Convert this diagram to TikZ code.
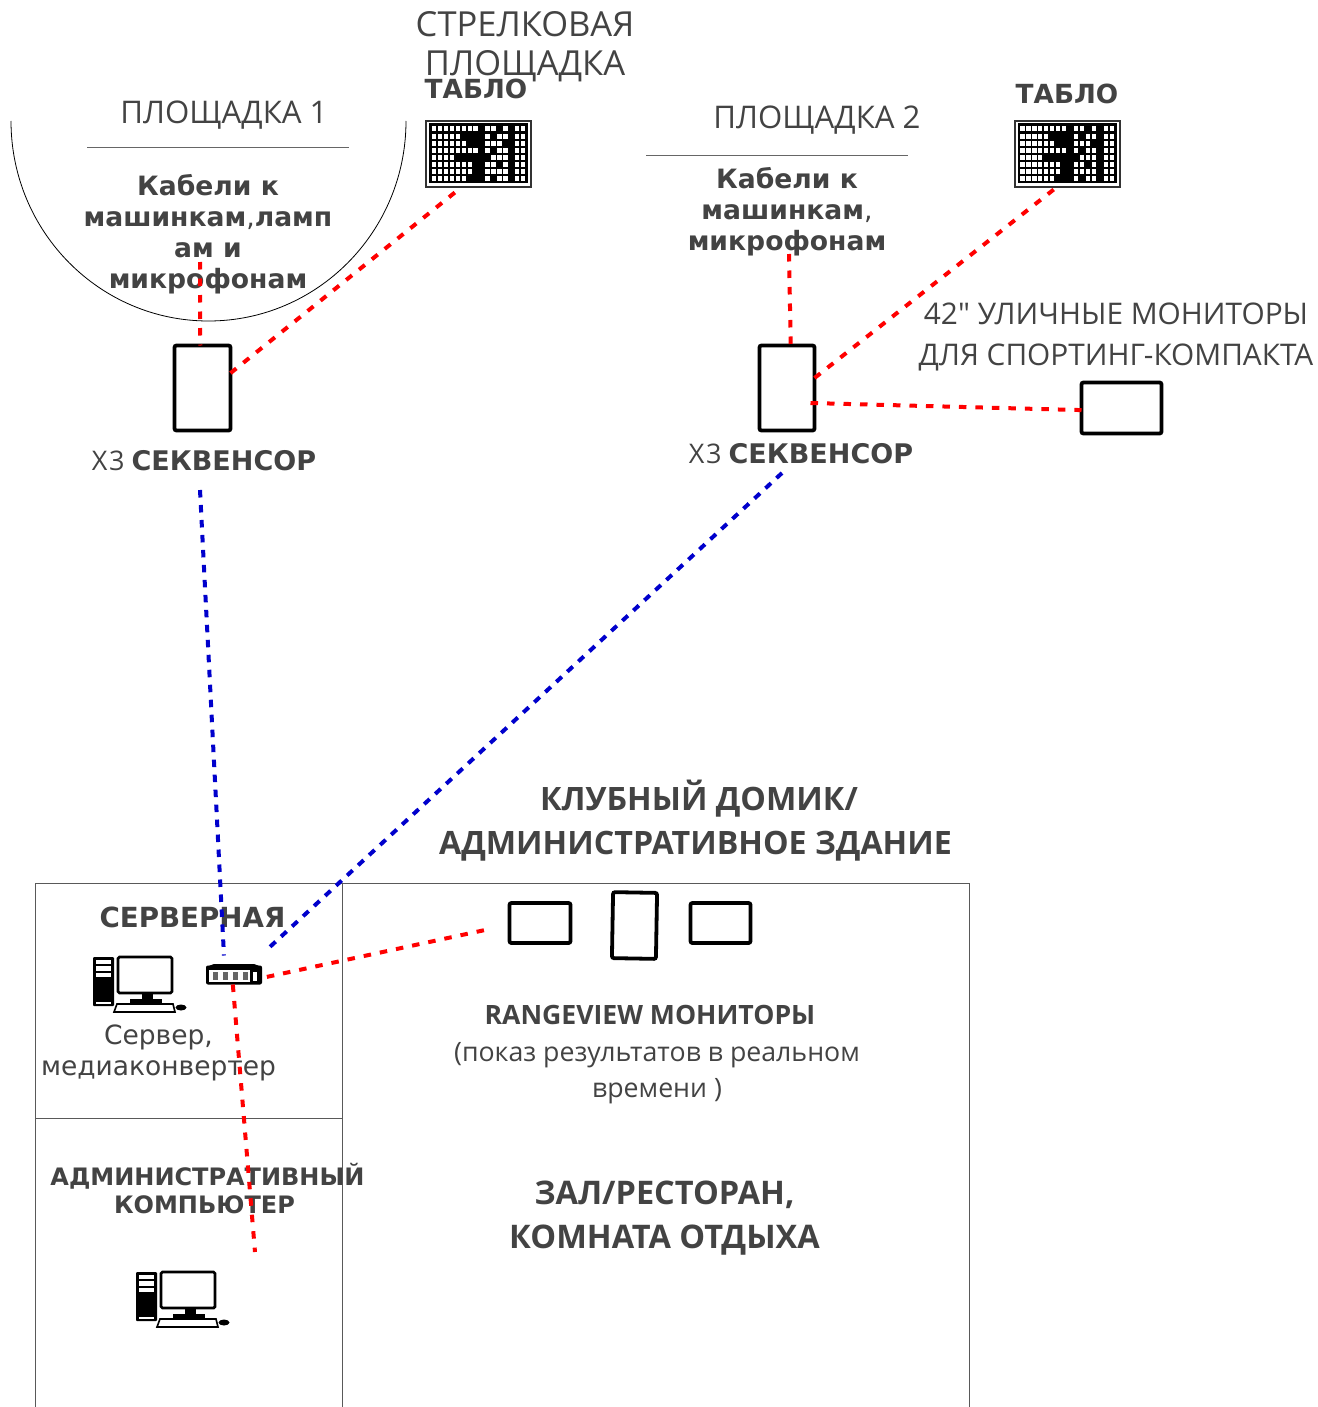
\documentclass[tikz,border=0pt]{standalone}
\usepackage{fontspec}
\setmainfont{Open Sans}
\newfontfamily\dejavu{DejaVu Sans}
\newfontfamily\plainos{Open Sans}
\usepackage{xcolor}
\definecolor{txt}{HTML}{434343}
\definecolor{reddash}{HTML}{FF0000}
\definecolor{bluedash}{HTML}{0000CC}
\newcommand{\fs}[1]{\fontsize{#1}{#1}\selectfont}
\newcommand{\seqtext}{{\addfontfeature{LetterSpace=6}Х3} {\dejavu\bfseries СЕКВЕНСОР}}
\tikzset{
  lbl/.style={inner sep=0pt, outer sep=0pt, text=txt, align=center},
  dv/.style={lbl, font=\dejavu\bfseries\fs{#1}},
  os/.style={lbl, font=\fs{#1}},
  osb/.style={lbl, font=\bfseries\fs{#1}},
  screen/.style={draw=black, line width=3.8pt, rounded corners=2pt, inner sep=0pt, outer sep=0pt, fill=white},
  redline/.style={draw=reddash, line width=4pt, dash pattern=on 7.5pt off 9pt},
  blueline/.style={draw=bluedash, line width=4pt, dash pattern=on 7.5pt off 7.5pt},
  tabloframe/.style={draw=black!80, line width=2pt, fill=white, minimum width=105pt, minimum height=66pt, inner sep=0pt, outer sep=0pt},
  tablodots/.pic={
    \fill[black] (-49.5,-30.5) rectangle (49.5,29.5);
    \foreach \r/\cols in {0/{0,1,2,3,4,5,6,7,9,10,12,14,15},
      1/{0,1,2,3,4,9,11,12,14,15},
      2/{0,1,2,3,4,5,9,10,11,14,15},
      3/{0,1,2,3,4,5,6,7,9,11,12,14,15},
      4/{0,1,2,3,10,11,12,14,15},
      5/{0,1,2,3,4,5,6,9,10,12,14,15},
      6/{0,1,2,3,4,5,6,9,10,11,12,14,15},
      7/{0,1,2,3,4,5,9,11,12,14,15}}{
      \foreach \c in \cols{
        \fill[white] ({-46.7+5.95*\c},{-27.5+7.05*\r}) rectangle ++(4.3,5);
      }
    }
  },
  compicon/.pic={
    \fill[black, rounded corners=1pt] (0,0) rectangle (21,49);
    \fill[white] (3,3) rectangle (18,7);
    \fill[white] (3,9) rectangle (18,13.5);
    \fill[white] (3,15.5) rectangle (18,20);
    \fill[white] (3,45) rectangle (18,47);
    \draw[black, line width=2.8pt, rounded corners=1.5pt] (25,0) rectangle (79,36);
    \fill[black] (49,37) rectangle (60,42);
    \fill[black] (37,42) rectangle (69,45.5);
    \draw[black, line width=1.6pt] (24,47) -- (80,47) -- (82,55) -- (21,55) -- cycle;
    \fill[black] (88,50.5) ellipse [x radius=5.5, y radius=3];
  },
  convicon/.pic={
    \fill[black] (-28,-8) -- (-20,-11) -- (20,-11) -- (28,-8) -- cycle;
    \fill[white] (-25.5,-5) rectangle (16,7);
    \fill[white] (19,-3) rectangle (23,6);
    \foreach \p in {-19,-9,1,11}{
      \fill[black!60] (\p-2.5,-3) rectangle (\p+2.5,5);
    }
  }
}
\begin{document}
\begin{tikzpicture}[x=1pt, y=-1pt]
  \useasboundingbox (0,0) rectangle (1317,1407);
  \fill[white] (0,0) rectangle (1317,1407);
  \draw[black, line width=0.8pt] (11,121) arc [start angle=180, end angle=0, x radius=197.5, y radius=200];
  \draw[black!60, line width=1pt] (87,148) -- (349,148);
  \draw[black!60, line width=1pt] (646,156) -- (908,156);
  \draw[black!65, line width=1pt] (35,1407) -- (35,883) -- (969,883) -- (969,1407);
  \draw[black!65, line width=1pt] (342,883) -- (342,1407);
  \draw[black!65, line width=1pt] (35,1118) -- (342,1118);
  \node[screen, minimum width=56pt, minimum height=85pt] (seq1) at (202.5,388) {};
  \node[screen, minimum width=55pt, minimum height=85pt] (seq2) at (787,388) {};
  \node[screen, minimum width=80pt, minimum height=51pt] (mon42) at (1121.5,408) {};
  \node[screen, minimum width=61pt, minimum height=40pt] (rv1) at (540,923) {};
  \node[screen, minimum width=44pt, minimum height=66pt, rotate=-1] (rv2) at (634.5,925.5) {};
  \node[screen, minimum width=60pt, minimum height=40pt] (rv3) at (720.5,923) {};
  \node[tabloframe] (tablo1) at (478.5,154) {};
  \node[tabloframe] (tablo2) at (1067,154) {};
  \pic at (tablo1.center) {tablodots};
  \pic at (tablo2.center) {tablodots};
  \node[fill=black, rounded corners=2pt, minimum width=56pt, minimum height=19pt, inner sep=0pt, outer sep=0pt] (conv) at (234,975) {};
  \pic at (conv.center) {convicon};
  \pic at (93,957) {compicon};
  \pic at (136,1272) {compicon};
  \coordinate (cab1) at (200,262);
  \coordinate (cab2) at (789,254);
  \coordinate (seqout1) at (200,490);
  \coordinate (seqout2) at (782,473);
  \coordinate (rvend) at (485,930);
  \coordinate (admend) at (255,1252);
  \node[os=34.5] (title) at (525,46.5) {СТРЕЛКОВАЯ\\[4pt]ПЛОЩАДКА};
  \node[dv=26.3] (tablolbl1) at (476,88.5) {ТАБЛО};
  \node[dv=26.3] (tablolbl2) at (1067,93.5) {ТАБЛО};
  \node[os=31.2] (site1) at (224,115) {ПЛОЩАДКА 1};
  \node[os=31.2] (site2) at (817,120) {ПЛОЩАДКА 2};
  \node[dv=26.6] (cables1) at (208,234.5) {Кабели к\\[4.4pt]машинкам{\mdseries,}ламп\\[4.4pt]ам и\\[4.4pt]микрофонам};
  \node[dv=26.6] (cables2) at (787,212) {Кабели к\\[4.4pt]машинкам{\mdseries,}\\[4.4pt]микрофонам};
  \node[os=27] (seqlbl1) at (204,461) {\seqtext};
  \node[os=27] (seqlbl2) at (801,453.5) {\seqtext};
  \node[os=29.8] (monlbl) at (1116,337) {{\plainos 42"} УЛИЧНЫЕ МОНИТОРЫ\\[11pt]ДЛЯ СПОРТИНГ-КОМПАКТА};
  \node[osb=32.2] (clubhouse) at (695.5,821) {\hspace*{7pt}КЛУБНЫЙ ДОМИК/\\[12pt]АДМИНИСТРАТИВНОЕ ЗДАНИЕ};
  \node[dv=27.7] (serverroom) at (192.5,917.5) {СЕРВЕРНАЯ};
  \node[lbl, font=\dejavu\fs{26.5}] (serverlbl) at (158.5,1053) {Сервер,\\[5pt]медиаконвертер};
  \node[osb=26.6] (rvlbl) at (650,1015) {RANGEVIEW МОНИТОРЫ};
  \node[os=26.7] (rvnote) at (657,1073) {(показ результатов в реальном\\[9.5pt]времени )};
  \node[dv=24] (adminlbl) at (207.5,1189) {АДМИНИСТРАТИВНЫЙ\\[4pt]КОМПЬЮТЕР\hspace*{6pt}};
  \node[osb=32.5] (hall) at (664.5,1218) {ЗАЛ/РЕСТОРАН,\\[11.5pt]КОМНАТА ОТДЫХА};
  \draw[redline] (cab1) -- (seq1.93);
  \draw[redline] (seq1.28) -- (tablo1.243);
  \draw[redline] (cab2) -- (seq2.85);
  \draw[redline] (seq2.20) -- (tablo2.253);
  \draw[redline] (seq2.east) ++(-4,15) -- (mon42.183);
  \draw[redline, dash phase=11.5pt] (conv.354) -- (rvend);
  \draw[redline] (conv.263) -- (admend);
  \draw[blueline, shorten >=10pt] (seqout1) -- (conv.135);
  \draw[blueline, shorten >=21pt] (seqout2) -- (conv.31);
\end{tikzpicture}
\end{document}
